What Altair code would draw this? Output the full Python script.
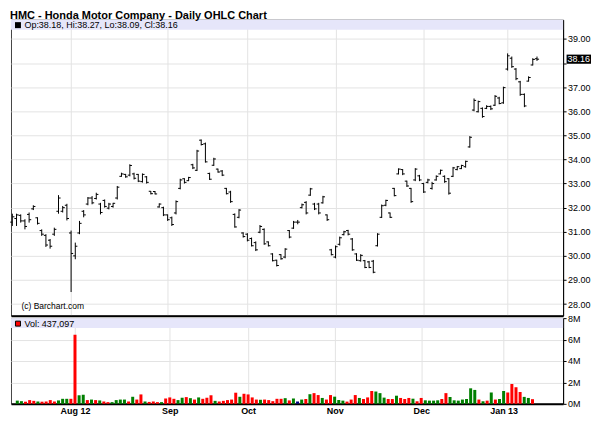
import altair as alt
import pandas as pd

# ---- data (trading-day index 0..125) ----
highs = [31.75, 31.75, 31.72, 31.52, 31.80, 32.10, 31.60, 31.10, 30.90, 30.70,
         31.17, 32.52, 32.07, 32.16, 31.05, 30.55, 31.45, 31.90, 32.44, 32.48,
         32.62, 32.20, 32.34, 32.20, 32.20, 32.90, 33.45, 33.40, 33.80, 33.45,
         33.40, 33.42, 33.31, 32.69, 32.69, 32.18, 32.04, 31.72, 31.63, 32.30,
         33.20, 33.22, 33.28, 33.82, 34.40, 34.83, 34.70, 33.45, 34.07, 33.62,
         33.56, 32.82, 32.70, 31.76, 31.94, 30.98, 30.94, 30.76, 30.60, 31.28,
         31.14, 30.60, 30.11, 29.84, 30.07, 30.32, 31.07, 31.45, 31.49, 32.17,
         32.27, 32.82, 32.20, 32.20, 32.49, 31.72, 30.29, 30.43, 30.80, 31.04,
         31.08, 30.74, 30.11, 30.07, 29.83, 29.79, 29.83, 30.94, 32.13, 32.33,
         31.80, 32.82, 33.63, 33.60, 33.12, 32.82, 33.64, 33.36, 33.03, 33.20,
         33.07, 33.34, 33.58, 33.34, 33.23, 33.69, 33.73, 33.78, 33.95, 34.97,
         36.53, 36.44, 36.16, 36.25, 36.24, 36.67, 36.60, 37.02, 38.40, 38.27,
         37.79, 37.26, 36.74, 37.45, 38.20, 38.27]
lows = [31.24, 31.24, 31.38, 31.10, 31.38, 31.90, 31.30, 30.83, 30.37, 30.30,
        30.83, 31.75, 31.80, 31.47, 28.50, 29.86, 30.90, 31.60, 32.10, 32.14,
        32.34, 31.72, 32.00, 31.93, 32.00, 32.34, 33.28, 33.24, 33.30, 33.17,
        33.06, 33.04, 33.00, 32.55, 32.55, 32.00, 31.65, 31.45, 31.24, 31.72,
        32.76, 33.00, 33.10, 33.60, 33.52, 34.58, 33.87, 33.15, 33.73, 33.45,
        33.31, 32.55, 32.20, 31.17, 31.56, 30.76, 30.60, 30.39, 30.20, 30.94,
        30.46, 30.39, 29.77, 29.56, 29.84, 29.90, 30.73, 31.12, 31.31, 31.97,
        31.72, 32.49, 31.90, 31.72, 32.17, 31.45, 30.02, 29.90, 30.43, 30.85,
        30.85, 30.21, 29.79, 29.76, 29.49, 29.49, 29.28, 30.39, 31.57, 32.06,
        31.57, 32.47, 33.38, 33.35, 32.86, 32.20, 33.10, 33.10, 32.61, 33.01,
        32.75, 33.12, 33.38, 33.03, 32.54, 33.27, 33.55, 33.60, 33.66, 34.49,
        36.00, 35.95, 35.73, 36.09, 36.05, 36.22, 36.29, 36.31, 37.69, 37.80,
        37.29, 36.64, 36.17, 37.23, 37.90, 38.09]
opens = [31.40, 31.55, 31.68, 31.45, 31.72, 31.95, 31.58, 31.05, 30.85, 30.65,
         30.90, 31.85, 31.85, 32.10, 30.95, 30.00, 30.95, 31.85, 32.15, 32.40,
         32.38, 32.15, 32.30, 31.98, 32.05, 32.40, 33.30, 33.38, 33.35, 33.40,
         33.38, 33.08, 33.28, 32.68, 32.67, 32.03, 32.00, 31.70, 31.58, 31.78,
         32.80, 33.20, 33.12, 33.78, 33.55, 34.80, 34.65, 33.42, 33.76, 33.60,
         33.52, 32.80, 32.65, 31.72, 31.60, 30.95, 30.90, 30.72, 30.55, 30.98,
         31.10, 30.58, 30.08, 29.82, 30.05, 29.95, 31.05, 31.15, 31.40, 32.00,
         32.22, 32.52, 32.15, 32.15, 32.20, 31.70, 30.25, 29.95, 30.48, 30.88,
         31.05, 30.70, 30.08, 29.80, 29.80, 29.75, 29.78, 30.42, 31.60, 32.10,
         31.78, 32.80, 33.40, 33.58, 33.10, 32.80, 33.15, 33.32, 33.00, 33.05,
         32.80, 33.15, 33.40, 33.30, 33.20, 33.30, 33.58, 33.62, 33.70, 34.52,
         36.05, 35.98, 36.12, 36.12, 36.20, 36.25, 36.55, 36.35, 37.75, 38.20,
         37.75, 37.22, 36.70, 37.25, 37.92, 38.18]
closes = [31.62, 31.70, 31.45, 31.22, 31.50, 32.05, 31.35, 30.90, 30.45, 30.40,
          31.10, 32.40, 32.00, 31.55, 30.10, 30.40, 31.35, 31.70, 32.40, 32.20,
          32.55, 31.80, 32.05, 32.15, 32.18, 32.85, 33.40, 33.28, 33.75, 33.22,
          33.10, 33.38, 33.05, 32.58, 32.57, 32.15, 31.70, 31.50, 31.30, 32.25,
          33.15, 33.05, 33.25, 33.65, 34.35, 34.62, 33.90, 33.18, 34.02, 33.48,
          33.35, 32.58, 32.25, 31.20, 31.90, 30.80, 30.65, 30.42, 30.25, 31.22,
          30.50, 30.42, 29.80, 29.60, 29.88, 30.28, 30.78, 31.40, 31.40, 32.12,
          31.78, 32.78, 31.95, 31.78, 32.45, 31.50, 30.05, 30.38, 30.75, 31.00,
          30.90, 30.25, 29.82, 30.02, 29.52, 29.52, 29.32, 30.90, 32.08, 32.30,
          31.60, 32.50, 33.60, 33.40, 32.90, 32.25, 33.60, 33.15, 32.65, 33.15,
          33.00, 33.30, 33.55, 33.08, 32.60, 33.65, 33.70, 33.75, 33.92, 34.92,
          36.45, 36.40, 35.78, 36.20, 36.10, 36.62, 36.32, 36.98, 38.30, 37.85,
          37.35, 36.70, 36.22, 37.40, 38.15, 38.16]
volumes_m = [0.30, 0.25, 0.20, 0.35, 0.28, 0.22, 0.20, 0.22, 0.35, 0.22,
             0.32, 0.47, 0.47, 0.47, 6.45, 0.80, 0.85, 0.35, 0.40, 0.35,
             0.32, 0.22, 0.16, 0.16, 0.35, 0.40, 0.40, 0.22, 0.66, 0.40,
             0.88, 0.22, 0.18, 0.22, 0.16, 0.16, 0.50, 0.60, 0.47, 0.35,
             0.57, 0.63, 0.53, 0.40, 0.60, 0.47, 0.57, 0.80, 0.28, 0.22,
             0.28, 0.35, 0.40, 1.04, 0.66, 0.94, 0.88, 0.60, 0.40, 0.38,
             0.40, 0.35, 0.25, 0.47, 0.47, 0.53, 0.32, 0.50, 0.22, 0.40,
             0.45, 0.90, 1.00, 0.82, 0.55, 0.40, 0.82, 0.67, 0.36, 0.30,
             0.21, 0.40, 0.82, 0.55, 0.45, 0.60, 1.20, 1.15, 1.00, 0.58,
             0.45, 0.45, 0.76, 0.55, 0.45, 0.55, 0.48, 0.24, 0.55, 0.33,
             0.30, 0.30, 0.33, 0.45, 1.00, 0.64, 0.33, 0.30, 0.40, 0.45,
             1.45, 1.30, 0.40, 0.24, 0.30, 1.06, 0.40, 0.45, 1.20, 1.06,
             1.85, 1.55, 1.10, 0.65, 0.55, 0.437097]

month_idx = [14, 37, 56, 77, 98, 118]
month_labels = ["Aug 12", "Sep", "Oct", "Nov", "Dec", "Jan 13"]
price_ticks = [28, 29, 30, 31, 32, 33, 34, 35, 36, 37, 38, 39]
vol_ticks = [0, 2, 4, 6, 8]

title_text = "HMC - Honda Motor Company - Daily OHLC Chart"
credit_text = "(c) Barchart.com"

df = pd.DataFrame({
    "idx": list(range(len(highs))),
    "o": opens, "h": highs, "l": lows, "c": closes, "v": volumes_m,
})
df["dir"] = ["up" if c > o else ("down" if c < o else "flat") for o, c in zip(opens, closes)]

FONT = "Liberation Sans"
GRID = "#e3e3e3"
W = 554
H_PRICE = 297
H_VOL = 86

x_scale = alt.Scale(domain=[-0.32, 131.22], nice=False, zero=False)
y_scale = alt.Scale(domain=[27.52, 39.80], nice=False, zero=False)
v_scale = alt.Scale(domain=[0, 8], nice=False, zero=True)

labels_js = "[" + ",".join("'" + s + "'" for s in month_labels) + "]"
idx_js = "[" + ",".join(str(i) for i in month_idx) + "]"
last_close = closes[-1]

x_axis_price = alt.Axis(values=month_idx, labels=False, ticks=False, grid=True,
                        gridColor=GRID, gridWidth=1, domain=True, domainColor="#000",
                        domainWidth=2, title=None, labelPadding=0, minExtent=0, maxExtent=0)
# the last-price box hides the tick label it sits on
y_axis_price = alt.Axis(orient="right", values=price_ticks, tickSize=3,
                        labelExpr=f"abs(datum.value - {last_close}) < 0.4 ? '' : format(datum.value, '.2f')",
                        tickColor="#000", domainColor="#000", labelFontSize=9,
                        labelColor="#000", labelFont=FONT, labelPadding=1.5, grid=True,
                        labelOverlap=False, gridColor=GRID, gridWidth=1, title=None)

XP = dict(scale=x_scale, axis=x_axis_price)
YP = dict(scale=y_scale, axis=y_axis_price)

base = alt.Chart(df)
hl = base.mark_rule(color="#000", strokeWidth=1).encode(
    x=alt.X("idx:Q", **XP), y=alt.Y("l:Q", **YP), y2="h:Q")
op = base.transform_calculate(xo="datum.idx - 0.5").mark_rule(color="#000", strokeWidth=1).encode(
    x=alt.X("xo:Q", **XP), x2="idx:Q", y=alt.Y("o:Q", **YP))
cl = base.transform_calculate(xc="datum.idx + 0.5").mark_rule(color="#000", strokeWidth=1).encode(
    x=alt.X("idx:Q", **XP), x2="xc:Q", y=alt.Y("c:Q", **YP))

one = pd.DataFrame({"a": [0]})
title_mark = alt.Chart(one).mark_text(align="left", baseline="top", fontSize=11, font=FONT,
                                      fontWeight="bold", color="#000", text=title_text).encode(
    x=alt.value(-1), y=alt.value(-10))
band_p = alt.Chart(one).mark_rect(color="#e6e6fa").encode(
    x=alt.value(0), x2=alt.value(W), y=alt.value(0), y2=alt.value(10))
sq_p = alt.Chart(one).mark_rect(color="#000").encode(
    x=alt.value(4), x2=alt.value(10), y=alt.value(2.5), y2=alt.value(8.5))
hdr_text = f"Op:{opens[-1]:.2f}, Hi:{highs[-1]:.2f}, Lo:{lows[-1]:.2f}, Cl:{closes[-1]:.2f}"
txt_p = alt.Chart(one).mark_text(align="left", baseline="middle", fontSize=9, font=FONT,
                                 color="#000", text=hdr_text).encode(
    x=alt.value(13.5), y=alt.value(5.5))
credit = alt.Chart(one).mark_text(align="left", baseline="middle", fontSize=8.5, font=FONT,
                                  color="#000", text=credit_text).encode(
    x=alt.value(10.5), y=alt.value(287))

last = pd.DataFrame({"c": [last_close]})
last_box = alt.Chart(last).transform_calculate(
    top="datum.c + 0.19", bot="datum.c - 0.19").mark_rect(color="#000").encode(
    x=alt.value(557.5), x2=alt.value(582),
    y=alt.Y("top:Q", **YP), y2="bot:Q")
last_txt = alt.Chart(last).mark_text(align="left", baseline="middle", fontSize=9, font=FONT,
                                     color="#fff").encode(
    x=alt.value(558.5), y=alt.Y("c:Q", **YP),
    text=alt.Text("c:Q", format=".2f"))

price = alt.layer(band_p, hl, op, cl, sq_p, txt_p, credit, last_box, last_txt,
                  title_mark).properties(width=W, height=H_PRICE)

x_axis_vol = alt.Axis(values=month_idx, labelExpr=f"{labels_js}[indexof({idx_js}, datum.value)]",
                      labelFontWeight="bold", labelFontSize=9, labelFont=FONT, labelColor="#000",
                      ticks=False, domain=True, domainColor="#000", domainWidth=2,
                      labelOverlap=False, grid=True, gridColor=GRID, gridWidth=1,
                      labelPadding=3, title=None)
y_axis_vol = alt.Axis(orient="right", values=vol_ticks, labelExpr="datum.value + 'M'",
                      tickSize=3, tickColor="#000", domainColor="#000", labelFontSize=9,
                      labelColor="#000", labelFont=FONT, labelPadding=1.5, grid=True,
                      labelOverlap=False, gridColor=GRID, gridWidth=1, title=None)

band_v = alt.Chart(one).mark_rect(color="#e6e6fa").encode(
    x=alt.value(0), x2=alt.value(W), y=alt.value(0), y2=alt.value(10))
vol_bars = alt.Chart(df).mark_bar(size=3).encode(
    x=alt.X("idx:Q", scale=x_scale, axis=x_axis_vol),
    y=alt.Y("v:Q", scale=v_scale, axis=y_axis_vol),
    color=alt.Color("dir:N", scale=alt.Scale(domain=["up", "down", "flat"],
                                             range=["#007f00", "#ff0000", "#000080"]),
                    legend=None),
)
sq_v = alt.Chart(one).mark_rect(color="#ff0000", stroke="#000", strokeWidth=1).encode(
    x=alt.value(4.5), x2=alt.value(9.5), y=alt.value(3), y2=alt.value(8))
vol_text = "Vol: " + f"{int(round(volumes_m[-1] * 1e6)):,}"
txt_v = alt.Chart(one).mark_text(align="left", baseline="middle", fontSize=9, font=FONT,
                                 color="#000", text=vol_text).encode(
    x=alt.value(13.5), y=alt.value(6))

volume = alt.layer(band_v, vol_bars, sq_v, txt_v).properties(width=W, height=H_VOL)

chart = alt.vconcat(price, volume, spacing=-3.5).properties(
    padding={"left": 1, "top": 0, "right": 0, "bottom": 0},
    background="#ffffff",
).configure_view(stroke="#444", strokeWidth=1)

chart.save("out.html", embed_options={"renderer": "svg", "actions": False})
